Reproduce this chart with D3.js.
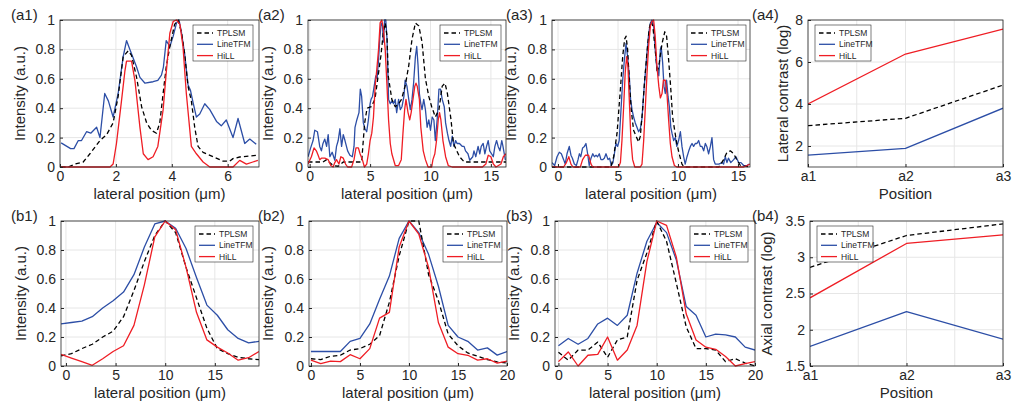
<!DOCTYPE html>
<html>
<head>
<meta charset="utf-8">
<script src="https://cdn.jsdelivr.net/npm/d3@7"></script>
<style>
    body { margin: 0; background: #fff; }
    svg { font-family: "Liberation Sans", Arial, sans-serif; }
</style>
</head>
<body>
<svg id="fig" width="1013" height="406"></svg>
<script>
var seriesNames = ['TPLSM', 'LineTFM', 'HiLL'];
var positionLabels = ['a1', 'a2', 'a3'];

// (a1) line profile, [position um, intensity]
var a1TPLSM = [[0.04,0],[0.3,0],[0.54,0.02],[0.83,0.034],[1.07,0.09],[1.43,0.18],[1.67,0.22],[1.9,0.3],[2.08,0.48],[2.26,0.75],[2.44,0.79],[2.56,0.76],[2.74,0.61],[2.92,0.41],[3.1,0.3],[3.27,0.25],[3.45,0.23],[3.57,0.3],[3.69,0.5],[3.8,0.68],[3.93,0.82],[4.1,0.97],[4.23,1.0],[4.35,0.91],[4.46,0.77],[4.58,0.55],[4.7,0.45],[4.82,0.27],[4.94,0.14],[5.12,0.1],[5.48,0.07],[5.83,0.04],[6.07,0.04],[6.19,0.057],[6.43,0.068],[6.79,0.075],[7.08,0.08]];
var a1LineTFM = [[0.04,0.164],[0.38,0.125],[0.5,0.125],[0.655,0.18],[0.77,0.18],[0.95,0.24],[1.1,0.23],[1.31,0.27],[1.43,0.2],[1.6,0.5],[1.73,0.45],[1.9,0.34],[2.08,0.5],[2.26,0.75],[2.38,0.86],[2.5,0.8],[2.74,0.68],[2.86,0.61],[3.04,0.57],[3.33,0.58],[3.5,0.59],[3.63,0.625],[3.7,0.68],[3.8,0.86],[3.93,0.82],[4.05,0.89],[4.17,0.98],[4.26,1.0],[4.35,0.91],[4.46,0.77],[4.58,0.56],[4.67,0.52],[4.76,0.44],[4.88,0.34],[5.0,0.36],[5.18,0.43],[5.36,0.39],[5.6,0.31],[5.77,0.28],[5.95,0.32],[6.19,0.2],[6.37,0.33],[6.61,0.16],[6.79,0.19],[7.02,0.155]];
var a1HiLL = [[0.04,0],[1.79,0],[1.9,0.02],[2.02,0.16],[2.2,0.45],[2.32,0.65],[2.38,0.72],[2.56,0.72],[2.68,0.59],[2.86,0.27],[2.98,0.09],[3.15,0.05],[3.33,0.07],[3.5,0.14],[3.69,0.39],[3.8,0.64],[3.93,0.91],[4.05,0.99],[4.17,1.0],[4.29,0.97],[4.4,0.82],[4.52,0.5],[4.7,0.14],[4.88,0.09],[5.12,0.034],[5.36,0],[6.19,0],[6.43,0.045],[6.67,0.02],[6.9,0.034],[7.08,0.045]];

// (a2)
var a2TPLSM = [[-0.14,0.034],[1.1,0.034],[1.4,0.05],[1.6,0.034],[1.94,0.01],[2.36,0.005],[2.78,0.034],[3.47,0.034],[4.3,0.034],[4.55,0.3],[4.75,0.4],[5.1,0.41],[5.4,0.46],[5.7,0.64],[5.9,0.76],[6.1,0.92],[6.25,0.98],[6.4,0.89],[6.5,0.62],[6.8,0.46],[7.08,0.41],[7.36,0.43],[7.6,0.46],[7.9,0.55],[8.2,0.69],[8.47,0.87],[8.75,0.98],[9.03,0.96],[9.3,0.85],[9.58,0.6],[9.86,0.48],[10.1,0.41],[10.4,0.34],[10.7,0.39],[10.97,0.55],[11.2,0.57],[11.4,0.5],[11.7,0.32],[11.9,0.16],[12.4,0.07],[12.8,0.034],[16.25,0.034]];
var a2LineTFM = [[-0.14,0.07],[0.08,0.13],[0.28,0.18],[0.42,0.25],[0.64,0.24],[0.83,0.14],[0.97,0.11],[1.1,0.16],[1.25,0.19],[1.4,0.14],[1.53,0.22],[1.67,0.07],[1.86,0.1],[2.08,0.046],[2.22,0.14],[2.36,0.18],[2.5,0.26],[2.64,0.14],[2.78,0.22],[2.92,0.18],[3.14,0.11],[3.33,0.08],[3.53,0.07],[3.67,0.14],[3.75,0.27],[3.9,0.32],[4.08,0.37],[4.19,0.53],[4.3,0.48],[4.44,0.3],[4.58,0.26],[4.72,0.24],[4.86,0.32],[5.0,0.43],[5.08,0.46],[5.2,0.48],[5.3,0.53],[5.47,0.62],[5.58,0.6],[5.7,0.73],[5.8,0.87],[5.92,0.98],[6.03,0.96],[6.1,0.85],[6.2,1.0],[6.3,1.0],[6.4,0.87],[6.53,0.46],[6.67,0.43],[6.8,0.45],[6.94,0.43],[7.08,0.46],[7.2,0.37],[7.36,0.46],[7.5,0.39],[7.64,0.41],[7.8,0.48],[7.9,0.59],[8.05,0.55],[8.2,0.46],[8.33,0.39],[8.47,0.46],[8.6,0.57],[8.75,0.75],[8.86,0.82],[8.97,0.69],[9.08,0.5],[9.2,0.43],[9.3,0.39],[9.44,0.46],[9.58,0.39],[9.72,0.27],[9.86,0.32],[10.0,0.25],[10.14,0.34],[10.28,0.32],[10.4,0.18],[10.55,0.32],[10.7,0.53],[10.83,0.53],[10.97,0.46],[11.14,0.41],[11.25,0.3],[11.4,0.23],[11.53,0.18],[11.67,0.14],[11.8,0.21],[11.94,0.14],[12.08,0.18],[12.2,0.16],[12.4,0.16],[12.64,0.14],[12.78,0.14],[12.9,0.11],[13.1,0.09],[13.25,0.046],[13.5,0.07],[13.6,0.11],[13.75,0.07],[13.94,0.14],[14.08,0.09],[14.2,0.14],[14.36,0.16],[14.5,0.09],[14.64,0.14],[14.78,0.18],[14.9,0.11],[15.05,0.09],[15.2,0.07],[15.33,0.14],[15.47,0.18],[15.6,0.14],[15.75,0.11],[15.9,0.18],[16.0,0.14],[16.2,0.046]];
var a2HiLL = [[-0.14,0.02],[0.14,0.07],[0.36,0.13],[0.55,0.11],[0.7,0.08],[0.83,0.05],[0.97,0.06],[1.25,0.06],[1.53,0.05],[1.75,0.01],[1.94,0],[2.08,0.03],[2.22,0.05],[2.42,0.02],[2.58,0.07],[2.78,0.06],[2.97,0.02],[3.14,0],[3.47,0],[3.67,0.05],[3.83,0.13],[4.03,0.13],[4.17,0.09],[4.36,0.05],[4.53,0],[4.72,0.02],[4.86,0.09],[5.0,0.18],[5.14,0.23],[5.28,0.34],[5.42,0.55],[5.55,0.66],[5.7,0.8],[5.83,0.98],[5.97,1.0],[6.1,0.94],[6.25,0.8],[6.4,0.55],[6.53,0.32],[6.67,0.16],[6.8,0.09],[7.08,0.01],[7.36,0.01],[7.58,0.05],[7.72,0.23],[7.86,0.39],[7.97,0.46],[8.14,0.37],[8.28,0.32],[8.4,0.37],[8.55,0.46],[8.7,0.55],[8.8,0.57],[8.9,0.55],[9.08,0.46],[9.2,0.27],[9.4,0.11],[9.58,0.05],[9.8,0],[10.1,0],[10.2,0.05],[10.36,0.09],[10.5,0.18],[10.64,0.32],[10.75,0.37],[10.86,0.32],[11.03,0.18],[11.25,0.07],[11.47,0.01],[11.8,0],[14.3,0],[14.58,0.02],[14.78,0.08],[15.0,0.07],[15.2,0.02],[15.42,0],[15.83,0.02],[16.03,0.07],[16.25,0.09]];

// (a3)
var a3TPLSM = [[-0.5,0],[4.4,0],[4.64,0.07],[4.92,0.23],[5.2,0.53],[5.39,0.75],[5.55,0.87],[5.67,0.89],[5.8,0.8],[5.94,0.59],[6.1,0.39],[6.3,0.25],[6.5,0.21],[6.72,0.17],[6.86,0.21],[7.05,0.39],[7.22,0.59],[7.42,0.78],[7.6,0.94],[7.75,0.99],[7.9,0.96],[8.1,0.8],[8.28,0.64],[8.44,0.71],[8.67,0.84],[8.9,0.92],[9.05,0.89],[9.22,0.73],[9.4,0.53],[9.55,0.34],[9.72,0.25],[9.9,0.16],[10.1,0.09],[10.33,0.02],[10.5,0],[13.4,0],[13.8,0.05],[14.08,0.1],[14.36,0.11],[14.64,0.09],[14.9,0.05],[15.2,0.01],[16,0]];
var a3LineTFM = [[-0.5,0.03],[-0.28,0.01],[-0.08,0.07],[0.11,0.1],[0.28,0.09],[0.47,0.05],[0.6,0.02],[0.75,0.09],[0.94,0.14],[1.08,0.08],[1.2,0.06],[1.36,0.02],[1.53,0.01],[1.67,0.05],[1.78,0.09],[1.9,0.07],[2.05,0.13],[2.2,0.14],[2.33,0.16],[2.47,0.09],[2.6,0.01],[2.75,0.06],[2.9,0.09],[3.03,0.07],[3.17,0.08],[3.3,0.07],[3.44,0.09],[3.58,0.05],[3.72,0.05],[3.86,0.06],[4.0,0.09],[4.17,0.05],[4.3,0.06],[4.44,0.01],[4.58,0.03],[4.7,0.09],[4.83,0.16],[4.97,0.14],[5.1,0.18],[5.25,0.39],[5.39,0.59],[5.53,0.73],[5.67,0.84],[5.8,0.75],[5.94,0.62],[6.05,0.46],[6.17,0.39],[6.3,0.34],[6.44,0.3],[6.58,0.27],[6.72,0.24],[6.86,0.26],[7.0,0.33],[7.14,0.5],[7.28,0.64],[7.42,0.78],[7.56,0.91],[7.7,0.98],[7.83,1.0],[7.97,0.96],[8.1,0.8],[8.25,0.66],[8.4,0.62],[8.53,0.8],[8.6,0.82],[8.72,0.71],[8.83,0.55],[8.94,0.5],[9.05,0.59],[9.17,0.48],[9.28,0.41],[9.4,0.27],[9.5,0.23],[9.64,0.18],[9.78,0.2],[9.9,0.14],[10.05,0.18],[10.2,0.24],[10.33,0.14],[10.47,0.07],[10.6,0.02],[10.75,0.07],[10.9,0.11],[11.03,0.14],[11.17,0.16],[11.3,0.14],[11.44,0.16],[11.58,0.16],[11.72,0.18],[11.86,0.14],[12.0,0.14],[12.14,0.11],[12.28,0.16],[12.4,0.14],[12.55,0.09],[12.7,0.14],[12.83,0.2],[12.97,0.05],[13.1,0.02],[13.4,0.02],[13.67,0.03],[13.8,0.02],[13.94,0.07],[14.08,0.03],[14.2,0.06],[14.4,0.03],[14.64,0.05],[14.83,0.07],[15.05,0.03],[15.25,0.03],[15.47,0.01],[15.75,0.01],[15.94,0.02]];
var a3HiLL = [[-0.5,0],[0.47,0],[0.7,0.03],[0.9,0.07],[1.08,0.02],[1.25,0],[1.86,0],[2.05,0.05],[2.28,0.08],[2.55,0.08],[2.75,0.02],[2.9,0],[5.05,0],[5.2,0.03],[5.33,0.18],[5.47,0.41],[5.6,0.64],[5.72,0.75],[5.83,0.68],[5.94,0.46],[6.08,0.18],[6.22,0.05],[6.4,0],[6.86,0],[7.0,0.02],[7.14,0.18],[7.28,0.41],[7.42,0.64],[7.55,0.82],[7.7,0.96],[7.83,0.99],[7.97,1.0],[8.1,0.89],[8.25,0.68],[8.4,0.55],[8.53,0.47],[8.67,0.5],[8.78,0.59],[8.94,0.59],[9.08,0.5],[9.22,0.32],[9.36,0.16],[9.5,0.07],[9.7,0.01],[9.9,0],[15.47,0],[15.75,0.01],[16,0.02]];

// (b1)-(b3) axial profiles, sampled positions and intensities
var b1Pos = [-0.5, 0.55, 1.6, 2.65, 3.7, 4.75, 5.8, 6.85, 7.9, 8.95, 10, 11.05, 12.1, 13.15, 14.2, 15.25, 16.3, 17.35, 18.4, 19.45];
var b1TPLSM = [0.07, 0.085, 0.12, 0.15, 0.2, 0.24, 0.34, 0.52, 0.72, 0.9, 1.0, 0.92, 0.68, 0.47, 0.26, 0.12, 0.085, 0.06, 0.05, 0.044];
var b1LineTFM = [0.29, 0.3, 0.31, 0.34, 0.4, 0.45, 0.51, 0.63, 0.82, 0.98, 1.0, 0.95, 0.81, 0.61, 0.42, 0.35, 0.25, 0.19, 0.16, 0.17];
var b1HiLL = [0.08, 0.055, 0.03, 0.005, 0.05, 0.1, 0.14, 0.28, 0.56, 0.89, 1.0, 0.94, 0.68, 0.37, 0.18, 0.13, 0.09, 0.04, 0.057, 0.1];

var b23Pos = [0, 1, 2, 3, 4, 5, 6, 7, 8, 9, 10, 11, 12, 13, 14, 15, 16, 17, 18, 19, 20];
var b2TPLSM = [0.05, 0.044, 0.067, 0.074, 0.11, 0.12, 0.15, 0.21, 0.44, 0.76, 1.0, 1.0, 0.63, 0.45, 0.22, 0.14, 0.09, 0.067, 0.044, 0.028, 0.02];
var b2LineTFM = [0.1, 0.1, 0.1, 0.1, 0.17, 0.19, 0.29, 0.46, 0.62, 0.88, 1.0, 0.92, 0.77, 0.55, 0.28, 0.2, 0.17, 0.11, 0.125, 0.075, 0.1];
var b2HiLL = [0.04, 0.016, 0.034, 0.03, 0.078, 0.05, 0.12, 0.33, 0.37, 0.82, 1.0, 0.91, 0.68, 0.3, 0.13, 0.085, 0.074, 0.04, 0.05, 0.02, 0.034];

var b3TPLSM = [0.095, 0.04, 0.11, 0.11, 0.165, 0.06, 0.18, 0.2, 0.59, 0.78, 1.0, 0.86, 0.57, 0.27, 0.12, 0.12, 0.11, 0.03, 0.05, 0.02, 0.0];
var b3LineTFM = [0.14, 0.19, 0.15, 0.19, 0.29, 0.33, 0.28, 0.35, 0.64, 0.86, 0.99, 0.92, 0.73, 0.41, 0.35, 0.2, 0.22, 0.215, 0.2, 0.13, 0.11];
var b3HiLL = [0.03, 0.097, 0.0, 0.074, 0.08, 0.2, 0.04, 0.11, 0.28, 0.72, 1.0, 0.97, 0.75, 0.36, 0.18, 0.13, 0.115, 0.065, 0.0, 0.016, 0.03];

// (a4) lateral contrast, (b4) axial contrast, per position a1..a3
var latTPLSM = [2.97, 3.32, 4.9];
var latLineTFM = [1.57, 1.89, 3.8];
var latHiLL = [4.0, 6.38, 7.57];
var axTPLSM = [2.86, 3.3, 3.46];
var axLineTFM = [1.77, 2.25, 1.87];
var axHiLL = [2.44, 3.19, 3.31];

var intensityTicks = [0, 0.2, 0.4, 0.6, 0.8, 1];

var svg = d3.select('#fig');
var ink = '#262626';
var gridColor = '#e6e6e6';
var styles = {
    TPLSM: { color: '#000000', dash: '4.5,3' },
    LineTFM: { color: '#2c4ea6', dash: null },
    HiLL: { color: '#ef1d24', dash: null }
};

function withPos(pos, vals) {
    return d3.zip(pos, vals);
}

function drawPanel(p) {
    var x = d3.scaleLinear().domain(p.xDomain).range([p.left, p.right]);
    var y = d3.scaleLinear().domain(p.yDomain).range([p.bottom, p.top]);
    var g = svg.append('g');

    // grid lines
    g.selectAll('.gx').data(p.xGrid).enter().append('line')
        .attr('x1', function (d) { return x(d); }).attr('x2', function (d) { return x(d); })
        .attr('y1', p.top).attr('y2', p.bottom)
        .attr('stroke', gridColor).attr('stroke-width', 1);
    g.selectAll('.gy').data(p.yGrid).enter().append('line')
        .attr('x1', p.left).attr('x2', p.right)
        .attr('y1', function (d) { return y(d); }).attr('y2', function (d) { return y(d); })
        .attr('stroke', gridColor).attr('stroke-width', 1);

    g.append('clipPath').attr('id', 'clip-' + p.id).append('rect')
        .attr('x', p.left).attr('y', p.top - 1)
        .attr('width', p.right - p.left).attr('height', p.bottom - p.top + 2);

    var line = d3.line()
        .x(function (d) { return x(d[0]); })
        .y(function (d) { return y(d[1]); });

    var lines = g.append('g').attr('clip-path', 'url(#clip-' + p.id + ')');
    p.order.forEach(function (name) {
        var st = styles[name];
        lines.append('path')
            .datum(p.series[name])
            .attr('d', line)
            .attr('fill', 'none')
            .attr('stroke', st.color)
            .attr('stroke-width', 1.3)
            .attr('stroke-dasharray', st.dash)
            .attr('stroke-linejoin', 'round');
    });

    // axes, MATLAB style inward ticks
    var xAxis = d3.axisBottom(x).tickValues(p.xTicks).tickSize(-3).tickPadding(4)
        .tickFormat(p.xFormat || d3.format('~g'));
    var yAxis = d3.axisLeft(y).tickValues(p.yTicks).tickSize(-3).tickPadding(5)
        .tickFormat(d3.format('~g'));

    var gx = g.append('g').attr('transform', 'translate(0,' + p.bottom + ')').call(xAxis);
    var gy = g.append('g').attr('transform', 'translate(' + p.left + ',0)').call(yAxis);
    [gx, gy].forEach(function (a) {
        a.select('.domain').remove();
        a.selectAll('line').attr('stroke', ink);
        a.selectAll('text').attr('fill', ink).style('font-size', '14px');
    });

    g.append('rect')
        .attr('x', p.left).attr('y', p.top)
        .attr('width', p.right - p.left).attr('height', p.bottom - p.top)
        .attr('fill', 'none').attr('stroke', ink).attr('stroke-width', 0.8);

    // labels
    g.append('text')
        .attr('x', (p.left + p.right) / 2).attr('y', p.bottom + 32)
        .attr('text-anchor', 'middle').attr('fill', ink).style('font-size', '15px')
        .text(p.xLabel);
    g.append('text')
        .attr('transform', 'translate(' + (p.left - p.yLabelOff) + ',' + ((p.top + p.bottom) / 2) + ') rotate(-90)')
        .attr('text-anchor', 'middle').attr('fill', ink).style('font-size', '15px')
        .text(p.yLabel);
    g.append('text')
        .attr('x', p.tagX).attr('y', p.top)
        .attr('fill', ink).style('font-size', '15px')
        .text(p.tag);

    drawLegend(g, p.legend[0], p.legend[1], p.legend[2]);
}

function drawLegend(g, lx, ly, w) {
    var lg = g.append('g').attr('transform', 'translate(' + lx + ',' + ly + ')');
    lg.append('rect').attr('width', w).attr('height', 36)
        .attr('fill', '#fff').attr('stroke', ink).attr('stroke-width', 0.6);
    seriesNames.forEach(function (name, i) {
        var yy = 8 + i * 11.3;
        var st = styles[name];
        lg.append('line').attr('x1', 4).attr('x2', 20).attr('y1', yy).attr('y2', yy)
            .attr('stroke', st.color).attr('stroke-width', 1.3)
            .attr('stroke-dasharray', st.dash);
        lg.append('text').attr('x', 24).attr('y', yy + 3)
            .attr('fill', ink).style('font-size', '8.5px').text(name);
    });
}

var latLabel = 'lateral position (\u03bcm)';
var topRow = { top: 20, bottom: 167 };
var botRow = { top: 221, bottom: 366 };

var panels = [
    { id: 'a1', tag: '(a1)', tagX: 11, left: 60, right: 259, top: topRow.top, bottom: topRow.bottom,
      xDomain: [0, 7.12], yDomain: [0, 1], xTicks: [0, 2, 4, 6], yTicks: intensityTicks,
      xGrid: [0, 2, 4, 6], yGrid: intensityTicks, xLabel: latLabel, yLabel: 'Intensity (a.u.)', yLabelOff: 35,
      order: ['LineTFM', 'TPLSM', 'HiLL'],
      series: { TPLSM: a1TPLSM, LineTFM: a1LineTFM, HiLL: a1HiLL },
      legend: [193, 25, 60] },
    { id: 'a2', tag: '(a2)', tagX: 258, left: 308, right: 506, top: topRow.top, bottom: topRow.bottom,
      xDomain: [-0.14, 16.25], yDomain: [0, 1], xTicks: [0, 5, 10, 15], yTicks: intensityTicks,
      xGrid: [0, 5, 10, 15], yGrid: intensityTicks, xLabel: latLabel, yLabel: 'Intensity (a.u.)', yLabelOff: 35,
      order: ['LineTFM', 'TPLSM', 'HiLL'],
      series: { TPLSM: a2TPLSM, LineTFM: a2LineTFM, HiLL: a2HiLL },
      legend: [440, 25, 61] },
    { id: 'a3', tag: '(a3)', tagX: 506, left: 552, right: 750, top: topRow.top, bottom: topRow.bottom,
      xDomain: [-0.5, 16], yDomain: [0, 1], xTicks: [0, 5, 10, 15], yTicks: intensityTicks,
      xGrid: [0, 5, 10, 15], yGrid: intensityTicks, xLabel: latLabel, yLabel: 'Intensity (a.u.)', yLabelOff: 36,
      order: ['LineTFM', 'TPLSM', 'HiLL'],
      series: { TPLSM: a3TPLSM, LineTFM: a3LineTFM, HiLL: a3HiLL },
      legend: [687, 25, 59] },
    { id: 'a4', tag: '(a4)', tagX: 752, left: 808, right: 1003, top: topRow.top, bottom: topRow.bottom,
      xDomain: [0, 2], yDomain: [1, 8], xTicks: [0, 1, 2], yTicks: [2, 4, 6, 8],
      xFormat: function (d) { return positionLabels[d]; },
      xGrid: [0, 0.5, 1, 1.5, 2], yGrid: [2, 4, 6, 8], xLabel: 'Position', yLabel: 'Lateral contrast (log)', yLabelOff: 20,
      order: ['TPLSM', 'LineTFM', 'HiLL'],
      series: { TPLSM: withPos([0, 1, 2], latTPLSM), LineTFM: withPos([0, 1, 2], latLineTFM), HiLL: withPos([0, 1, 2], latHiLL) },
      legend: [815, 25, 56] },
    { id: 'b1', tag: '(b1)', tagX: 11, left: 61, right: 259, top: botRow.top, bottom: botRow.bottom,
      xDomain: [-0.5, 19.45], yDomain: [0, 1], xTicks: [0, 5, 10, 15], yTicks: intensityTicks,
      xGrid: [0, 5, 10, 15], yGrid: intensityTicks, xLabel: latLabel, yLabel: 'Intensity (a.u.)', yLabelOff: 35,
      order: ['LineTFM', 'TPLSM', 'HiLL'],
      series: { TPLSM: withPos(b1Pos, b1TPLSM), LineTFM: withPos(b1Pos, b1LineTFM), HiLL: withPos(b1Pos, b1HiLL) },
      legend: [195, 226, 58] },
    { id: 'b2', tag: '(b2)', tagX: 258, left: 309, right: 507, top: botRow.top, bottom: botRow.bottom,
      xDomain: [-0.2, 20], yDomain: [0, 1], xTicks: [0, 5, 10, 15, 20], yTicks: intensityTicks,
      xGrid: [0, 5, 10, 15, 20], yGrid: intensityTicks, xLabel: latLabel, yLabel: 'Intensity (a.u.)', yLabelOff: 36,
      order: ['LineTFM', 'TPLSM', 'HiLL'],
      series: { TPLSM: withPos(b23Pos, b2TPLSM), LineTFM: withPos(b23Pos, b2LineTFM), HiLL: withPos(b23Pos, b2HiLL) },
      legend: [443, 226, 59] },
    { id: 'b3', tag: '(b3)', tagX: 506, left: 555, right: 755, top: botRow.top, bottom: botRow.bottom,
      xDomain: [-0.35, 20], yDomain: [0, 1], xTicks: [0, 5, 10, 15, 20], yTicks: intensityTicks,
      xGrid: [0, 5, 10, 15, 20], yGrid: intensityTicks, xLabel: latLabel, yLabel: 'Intensity (a.u.)', yLabelOff: 36,
      order: ['LineTFM', 'TPLSM', 'HiLL'],
      series: { TPLSM: withPos(b23Pos, b3TPLSM), LineTFM: withPos(b23Pos, b3LineTFM), HiLL: withPos(b23Pos, b3HiLL) },
      legend: [690, 226, 58] },
    { id: 'b4', tag: '(b4)', tagX: 752, left: 810, right: 1003, top: botRow.top, bottom: botRow.bottom,
      xDomain: [0, 2], yDomain: [1.5, 3.5], xTicks: [0, 1, 2], yTicks: [1.5, 2, 2.5, 3, 3.5],
      xFormat: function (d) { return positionLabels[d]; },
      xGrid: [0, 0.5, 1, 1.5, 2], yGrid: [1.5, 2, 2.5, 3, 3.5], xLabel: 'Position', yLabel: 'Axial contrast (log)', yLabelOff: 38,
      order: ['TPLSM', 'LineTFM', 'HiLL'],
      series: { TPLSM: withPos([0, 1, 2], axTPLSM), LineTFM: withPos([0, 1, 2], axLineTFM), HiLL: withPos([0, 1, 2], axHiLL) },
      legend: [817, 226, 56] }
];

panels.forEach(drawPanel);
</script>
</body>
</html>
